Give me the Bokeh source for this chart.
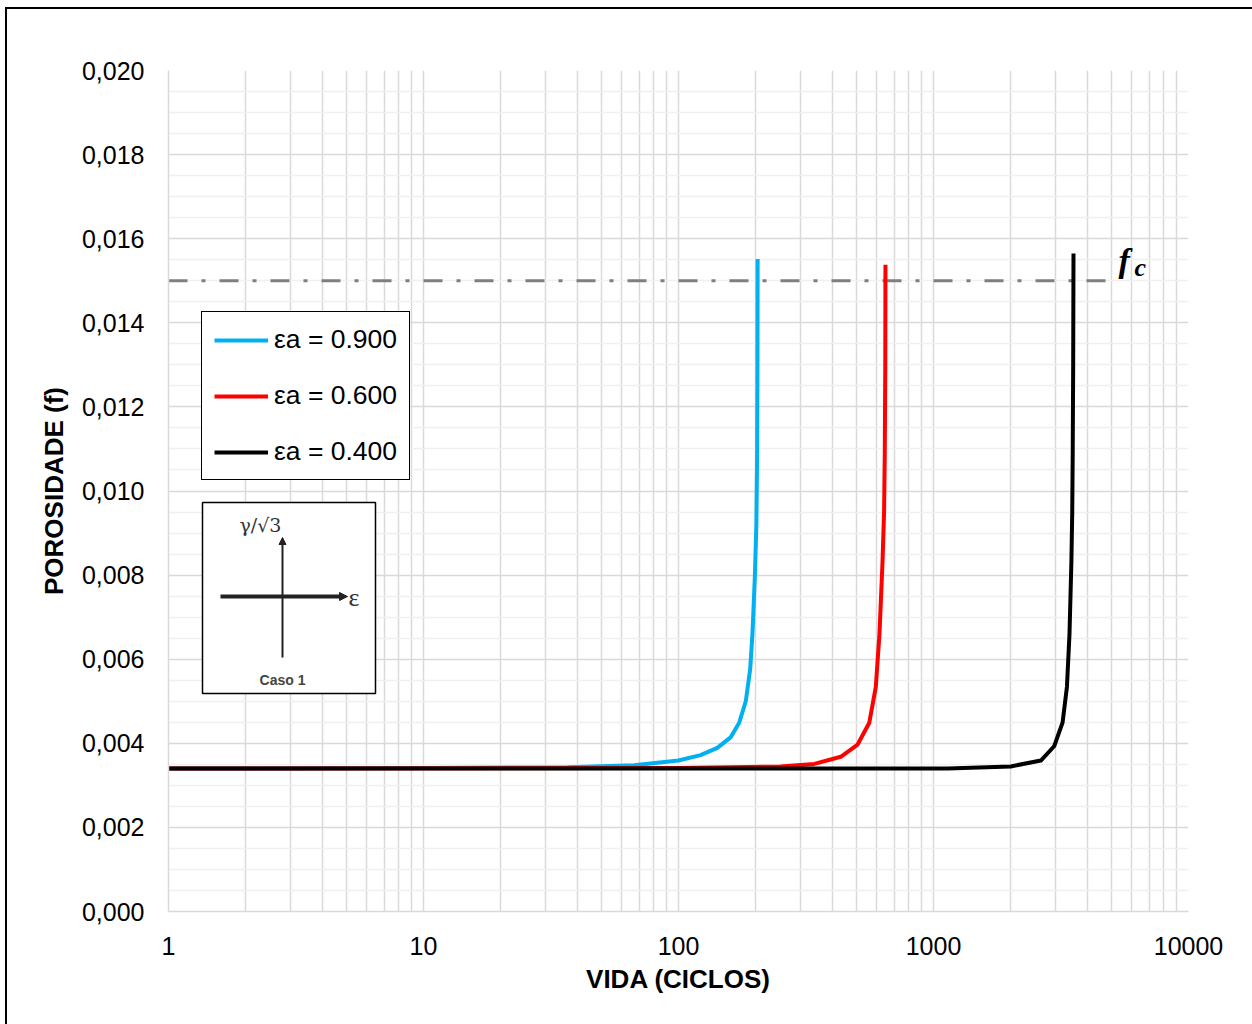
from bokeh.plotting import figure
from bokeh.models import (FixedTicker, CustomJSTickFormatter, Legend, LegendItem,
                          BoxAnnotation, Label, Arrow, NormalHead, Range1d)
from bokeh.embed import file_html
from bokeh.resources import INLINE

# ---------------- data ----------------
x_ticks = [1, 10, 100, 1000, 10000]
x_minor = [m * d for d in [1, 10, 100, 1000] for m in range(2, 10)]
y_ticks = [0.000, 0.002, 0.004, 0.006, 0.008, 0.010, 0.012, 0.014, 0.016, 0.018, 0.020]
y_minor = [round(0.0005 * i, 4) for i in range(0, 41) if i % 4 != 0]

series_labels = ["εa = 0.900", "εa = 0.600", "εa = 0.400"]
series_colors = ["#00B0F0", "#FF0000", "#000000"]

cyan_x = [1, 10, 36.7, 67, 100, 122, 142, 160, 173, 183.6, 191, 195, 199.3, 202, 203.5, 204, 204.3]
cyan_y = [0.0034, 0.00341, 0.00343, 0.00348, 0.00359, 0.00372, 0.00389, 0.00414, 0.00449,
          0.0050, 0.00576, 0.00661, 0.00797, 0.0092, 0.0110, 0.0130, 0.01552]

red_x = [1, 100, 251, 341, 433, 504, 560, 594, 614, 631, 640, 644, 647, 648]
red_y = [0.0034, 0.00341, 0.003447, 0.00351, 0.00368, 0.00397, 0.00449, 0.00534, 0.00661,
         0.00831, 0.0095, 0.01087, 0.0130, 0.01538]

black_x = [1, 1135, 2010, 2636, 2973, 3207, 3336, 3415, 3473, 3500, 3515, 3530, 3540]
black_y = [0.0034, 0.0034, 0.00345, 0.00359, 0.00393, 0.00449, 0.00534, 0.00661, 0.00831,
           0.0095, 0.01087, 0.0130, 0.01565]

fc_x = [1, 5000]
fc_y = [0.015, 0.015]

# ---------------- figure ----------------
p = figure(width=1252, height=1024, x_axis_type="log",
           x_range=Range1d(1, 10000), y_range=Range1d(0, 0.020),
           output_backend="svg", toolbar_location=None,
           min_border_left=168, min_border_right=64, min_border_top=70, min_border_bottom=113)
p.background_fill_color = "white"
p.border_fill_color = None
p.outline_line_color = None
# outer frame of the picture (left and top edges visible), drawn behind the canvas
p.styles = {
    "background": ("linear-gradient(#000, #000) 5px 7px / 2px 100% no-repeat, "
                   "linear-gradient(#000, #000) 5px 7px / 100% 2px no-repeat, white"),
}

xt = FixedTicker(ticks=x_ticks, minor_ticks=x_minor)
yt = FixedTicker(ticks=y_ticks, minor_ticks=y_minor)
p.xaxis.ticker = xt
p.yaxis.ticker = yt
p.xgrid.ticker = xt
p.ygrid.ticker = yt
p.xaxis.formatter = CustomJSTickFormatter(code="return String(Math.round(tick));")
p.yaxis.formatter = CustomJSTickFormatter(code="return tick.toFixed(3).replace('.', ',');")

for ax in (p.xaxis, p.yaxis):
    ax.major_tick_line_color = None
    ax.minor_tick_line_color = None
    ax.axis_line_color = "#d9d9d9"
    ax.axis_line_width = 1.5
    ax.major_label_text_font = "Liberation Sans"
    ax.major_label_text_font_size = "25px"
    ax.major_label_text_color = "black"
    ax.axis_label_text_font = "Liberation Sans"
    ax.axis_label_text_font_size = "26px"
    ax.axis_label_text_font_style = "bold"
    ax.axis_label_text_color = "black"

p.xaxis.major_label_standoff = 19
p.yaxis.major_label_standoff = 18
p.xaxis.axis_label = "VIDA (CICLOS)"
p.yaxis.axis_label = "POROSIDADE (f)"
p.xaxis.axis_label_standoff = 6
p.yaxis.axis_label_standoff = 10

p.xgrid.grid_line_color = "#d9d9d9"
p.xgrid.grid_line_width = 1.5
p.xgrid.minor_grid_line_color = "#d9d9d9"
p.xgrid.minor_grid_line_width = 1.5
p.ygrid.grid_line_color = "#d9d9d9"
p.ygrid.grid_line_width = 1.5
p.ygrid.minor_grid_line_color = "#f0f0f0"
p.ygrid.minor_grid_line_width = 1.5

# critical porosity line
p.line(fc_x, fc_y, line_color="#7f7f7f", line_width=3, line_dash="19 14 4 14")

r1 = p.line(cyan_x, cyan_y, line_color=series_colors[0], line_width=4, line_join="round")
r2 = p.line(red_x, red_y, line_color=series_colors[1], line_width=4, line_join="round")
r3 = p.line(black_x, black_y, line_color=series_colors[2], line_width=4, line_join="round")

legend = Legend(items=[LegendItem(label=series_labels[0], renderers=[r1]),
                       LegendItem(label=series_labels[1], renderers=[r2]),
                       LegendItem(label=series_labels[2], renderers=[r3])],
                location=(33, 431), orientation="vertical",
                padding=12, spacing=25, margin=0,
                glyph_width=54, glyph_height=30, label_height=30, label_standoff=6,
                label_text_font="Liberation Sans", label_text_font_size="26.5px",
                label_text_color="black",
                border_line_color="black", border_line_width=1.5, border_line_alpha=1,
                background_fill_color="white", background_fill_alpha=1)
p.add_layout(legend)

# inset diagram (Caso 1)
p.add_layout(BoxAnnotation(left=202, right=375, top=502, bottom=693,
                           left_units="canvas", right_units="canvas",
                           top_units="canvas", bottom_units="canvas",
                           fill_color="white", fill_alpha=1,
                           line_color="black", line_alpha=1, line_width=1.5))
p.add_layout(Arrow(end=NormalHead(size=7, fill_color="#222222", line_color="#222222"),
                   x_start=282, y_start=657, x_end=282, y_end=537,
                   start_units="canvas", end_units="canvas",
                   line_color="#222222", line_width=2))
p.add_layout(Arrow(end=NormalHead(size=8, fill_color="#222222", line_color="#222222"),
                   x_start=220, y_start=596, x_end=347, y_end=596,
                   start_units="canvas", end_units="canvas",
                   line_color="#222222", line_width=4))
p.add_layout(Label(x=239, y=524, x_units="canvas", y_units="canvas", text="γ/√3",
                   text_font="DejaVu Serif", text_font_size="19px", text_color="#333333",
                   text_baseline="middle", text_align="left"))
p.add_layout(Label(x=348, y=597, x_units="canvas", y_units="canvas", text="ε",
                   text_font="Liberation Serif", text_font_size="26px", text_color="#333333",
                   text_baseline="middle", text_align="left"))
p.add_layout(Label(x=282, y=679, x_units="canvas", y_units="canvas", text="Caso 1",
                   text_font="Liberation Sans", text_font_size="14px", text_font_style="bold",
                   text_color="#444444", text_baseline="middle", text_align="center"))

# f_c label
p.add_layout(Label(x=1118, y=260, x_units="canvas", y_units="canvas", text="f",
                   text_font="Liberation Serif", text_font_size="34px",
                   text_font_style="bold italic", text_color="black",
                   text_baseline="alphabetic", text_align="left"))
p.add_layout(Label(x=1134, y=267, x_units="canvas", y_units="canvas", text="c",
                   text_font="Liberation Serif", text_font_size="26px",
                   text_font_style="bold italic", text_color="black",
                   text_baseline="alphabetic", text_align="left"))

open("out.html", "w").write(file_html(p, INLINE))
